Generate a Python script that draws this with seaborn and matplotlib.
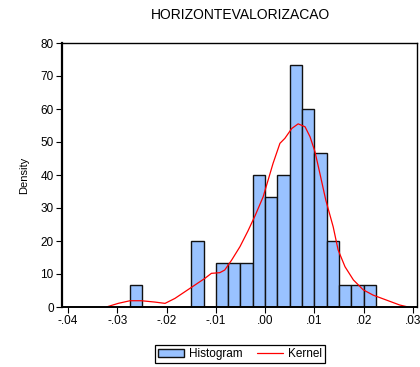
import numpy as np
import pandas as pd
import matplotlib
matplotlib.use("Agg")
import matplotlib.pyplot as plt
import seaborn as sns
from matplotlib.patches import Patch
from matplotlib.lines import Line2D

# Histogram: bin edges (width .0025) and observation counts per bin
bin_edges = [-0.0275, -0.025, -0.0225, -0.02, -0.0175, -0.015, -0.0125, -0.01,
             -0.0075, -0.005, -0.0025, 0.0, 0.0025, 0.005, 0.0075, 0.01,
             0.0125, 0.015, 0.0175, 0.02, 0.0225]
bin_counts = [1, 0, 0, 0, 0, 3, 0, 2, 2, 2, 6, 5, 6, 11, 9, 7, 3, 1, 1, 1]

# Kernel density curve
kernel_x = [-0.0322, -0.0298, -0.0274, -0.0251, -0.0224, -0.0203, -0.0183, -0.0163,
            -0.0142, -0.0122, -0.0109, -0.0092, -0.0082, -0.0068, -0.0051, -0.0035,
            -0.0020, -0.0004, 0.0016, 0.0030, 0.0040, 0.0054, 0.0067, 0.0081,
            0.0091, 0.0101, 0.0111, 0.0123, 0.0138, 0.0148, 0.0162, 0.0179,
            0.0199, 0.0219, 0.0246, 0.0273, 0.0290]
kernel_y = [0.0, 1.1, 1.9, 1.9, 1.5, 1.1, 2.6, 4.6,
            6.7, 8.7, 10.2, 10.4, 11.2, 14.2, 18.3, 23.0,
            27.8, 33.4, 43.5, 49.6, 51.1, 54.1, 55.5, 54.6,
            51.6, 47.1, 40.5, 32.4, 24.3, 17.3, 12.2, 8.2,
            5.2, 3.6, 2.1, 0.6, 0.0]

x_ticks = [-0.04, -0.03, -0.02, -0.01, 0.0, 0.01, 0.02, 0.03]
x_tick_labels = ["-.04", "-.03", "-.02", "-.01", ".00", ".01", ".02", ".03"]
y_ticks = [0, 10, 20, 30, 40, 50, 60, 70, 80]

title = "HORIZONTEVALORIZACAO"

sns.set_theme(style="ticks")
plt.rcParams["font.family"] = ["Liberation Sans", "DejaVu Sans"]
plt.rcParams["text.color"] = "black"
plt.rcParams["axes.labelcolor"] = "black"

bar_color = "#99c2ff"
line_color = "#ff0000"

mids = [(a + b) / 2 for a, b in zip(bin_edges[:-1], bin_edges[1:])]
hist_df = pd.DataFrame({"value": mids, "count": bin_counts})
kern_df = pd.DataFrame({"x": kernel_x, "y": kernel_y})

fig = plt.figure(figsize=(4.2, 3.67), dpi=100)
ax = fig.add_axes([62 / 420, 60 / 367, 355 / 420, 264 / 367])

sns.histplot(data=hist_df, x="value", weights="count", bins=bin_edges,
             stat="density", color=bar_color, alpha=1.0, edgecolor="#111111",
             linewidth=1.0, ax=ax)
sns.lineplot(data=kern_df, x="x", y="y", color=line_color, linewidth=0.9,
             ax=ax, sort=False)

ax.set_xlim(-0.0412, 0.0308)
ax.set_ylim(0, 80)
ax.set_xticks(x_ticks)
ax.set_xticklabels(x_tick_labels)
ax.set_yticks(y_ticks)
ax.set_xlabel("")
ax.set_ylabel("Density", fontsize=8, labelpad=8)
ax.tick_params(axis="both", direction="out", length=4, width=0.8,
               labelsize=8.5, colors="black", labelcolor="black", pad=2)
for s in ax.spines.values():
    s.set_visible(True)
    s.set_color("black")
    s.set_linewidth(1.0)
ax.spines["left"].set_linewidth(1.6)
ax.spines["bottom"].set_linewidth(1.4)

fig.text(240 / 420, 1 - 15 / 367, title, ha="center", va="center",
         fontsize=10, color="black")

handles = [Patch(facecolor=bar_color, edgecolor="#111111", linewidth=1.0),
           Line2D([0], [0], color=line_color, linewidth=0.9)]
leg = fig.legend(handles, ["Histogram", "Kernel"], loc="center",
                 bbox_to_anchor=(240 / 420, 1 - 354 / 367), ncol=2,
                 fontsize=8.5, frameon=True, fancybox=False, framealpha=1,
                 edgecolor="black", borderpad=0.25, handlelength=2.2,
                 handletextpad=0.4, columnspacing=1.2)
leg.get_frame().set_linewidth(0.9)
for t in leg.get_texts():
    t.set_color("black")

fig.savefig("out.png", dpi=100)
